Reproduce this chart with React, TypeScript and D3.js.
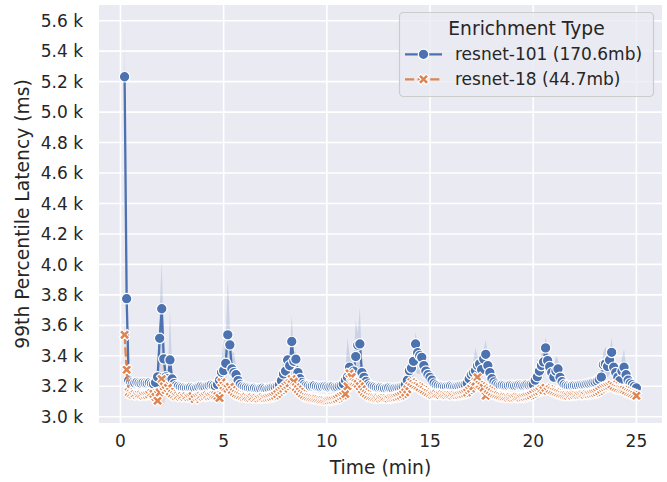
import React from 'react';
import * as d3 from 'd3';

// ---- data (ms), sampled every 0.1 min starting at 0.2 min ----
const timeStartMin = 0.2;
const timeStepMin = 0.1;

const resnet101 = [
  5232, 3775, 3240, 3228, 3225, 3222, 3226, 3223, 3221, 3224,
  3222, 3220, 3223, 3218, 3215, 3225, 3262, 3515, 3709, 3380,
  3262, 3250, 3373, 3248, 3218, 3205, 3200, 3195, 3192, 3190,
  3188, 3190, 3192, 3189, 3186, 3190, 3195, 3200, 3198, 3196,
  3200, 3205, 3208, 3204, 3200, 3212, 3240, 3292, 3303, 3351,
  3538, 3472, 3314, 3290, 3276, 3237, 3212, 3200, 3195, 3192,
  3190, 3188, 3186, 3188, 3185, 3183, 3186, 3188, 3185, 3182,
  3186, 3190, 3193, 3195, 3200, 3210, 3237, 3281, 3300, 3373,
  3336, 3494, 3364, 3378, 3290, 3250, 3225, 3212, 3205, 3203,
  3200, 3202, 3205, 3200, 3198, 3196, 3198, 3200, 3197, 3195,
  3198, 3200, 3196, 3198, 3202, 3206, 3215, 3240, 3260, 3325,
  3290, 3300, 3395, 3470, 3478, 3290, 3259, 3232, 3215, 3205,
  3200, 3196, 3193, 3190, 3192, 3189, 3186, 3188, 3190, 3187,
  3185, 3188, 3190, 3192, 3195, 3200, 3210, 3240, 3303, 3320,
  3364, 3478, 3420, 3402, 3390, 3336, 3300, 3276, 3259, 3240,
  3220, 3210, 3205, 3200, 3198, 3196, 3198, 3200, 3202, 3200,
  3197, 3199, 3202, 3205, 3208, 3212, 3220, 3250, 3276, 3290,
  3303, 3336, 3347, 3310, 3380, 3410, 3336, 3290, 3250, 3228,
  3215, 3208, 3205, 3208, 3206, 3203, 3205, 3208, 3206, 3204,
  3206, 3209, 3207, 3205, 3207, 3210, 3208, 3211, 3211, 3240,
  3263, 3300, 3336, 3360, 3452, 3369, 3329, 3290, 3260, 3300,
  3314, 3259, 3230, 3212, 3205, 3202, 3200, 3203, 3205, 3203,
  3206, 3208, 3210, 3212, 3215, 3218, 3222, 3225, 3228, 3235,
  3245, 3260, 3342, 3347, 3330, 3373, 3423, 3325, 3290, 3260,
  3237, 3300, 3325, 3276, 3240, 3220, 3210, 3200, 3189,
];

const resnet18 = [
  3538, 3309, 3160, 3150, 3145, 3148, 3142, 3146, 3144, 3140,
  3143, 3145, 3148, 3156, 3150, 3130, 3105, 3160, 3248, 3200,
  3176, 3190, 3165, 3150, 3140, 3135, 3138, 3132, 3136, 3130,
  3134, 3128, 3132, 3135, 3116, 3130, 3134, 3138, 3132, 3136,
  3140, 3135, 3138, 3142, 3140, 3135, 3123, 3226, 3205, 3190,
  3185, 3197, 3175, 3160, 3150, 3142, 3138, 3132, 3128, 3130,
  3126, 3124, 3128, 3122, 3125, 3120, 3124, 3127, 3122, 3125,
  3128, 3132, 3135, 3140, 3150, 3165, 3175, 3185, 3200, 3210,
  3220, 3248, 3230, 3193, 3180, 3165, 3150, 3140, 3132, 3128,
  3125, 3122, 3120, 3118, 3115, 3112, 3110, 3108, 3106, 3108,
  3110, 3112, 3115, 3118, 3125, 3135, 3140, 3150, 3200, 3285,
  3260, 3226, 3220, 3215, 3200, 3180, 3160, 3150, 3140, 3132,
  3128, 3125, 3122, 3124, 3120, 3123, 3126, 3122, 3120, 3124,
  3126, 3128, 3130, 3135, 3140, 3148, 3160, 3180, 3200, 3226,
  3215, 3205, 3200, 3193, 3180, 3175, 3165, 3158, 3150, 3145,
  3148, 3150, 3146, 3144, 3148, 3145, 3142, 3146, 3143, 3140,
  3144, 3142, 3145, 3148, 3150, 3155, 3160, 3175, 3185, 3200,
  3230, 3259, 3211, 3200, 3190, 3138, 3180, 3170, 3160, 3150,
  3145, 3140, 3136, 3132, 3130, 3128, 3126, 3128, 3125, 3127,
  3130, 3128, 3126, 3129, 3132, 3135, 3138, 3142, 3150, 3160,
  3165, 3170, 3180, 3175, 3190, 3171, 3180, 3171, 3165, 3160,
  3155, 3150, 3145, 3142, 3140, 3138, 3142, 3140, 3144, 3146,
  3143, 3146, 3148, 3145, 3150, 3148, 3152, 3155, 3158, 3162,
  3170, 3180, 3190, 3195, 3200, 3205, 3210, 3200, 3190, 3185,
  3180, 3178, 3176, 3170, 3160, 3155, 3150, 3145, 3138,
];

// confidence band: distance above / below the mean (ms)
const resnet101CiUp = [
  358, 150, 40, 15, 12, 12, 14, 12, 12, 13,
  12, 12, 14, 12, 15, 20, 60, 200, 311, 120,
  40, 40, 330, 60, 20, 14, 12, 12, 12, 12,
  12, 12, 12, 12, 12, 12, 12, 12, 12, 12,
  12, 14, 14, 12, 14, 20, 40, 90, 220, 150,
  370, 120, 110, 130, 60, 30, 15, 12, 12, 12,
  12, 12, 12, 12, 12, 12, 12, 12, 12, 12,
  12, 12, 12, 14, 15, 20, 40, 100, 80, 40,
  60, 170, 60, 50, 60, 30, 15, 12, 12, 12,
  12, 12, 12, 12, 12, 12, 12, 12, 12, 12,
  12, 12, 12, 12, 12, 14, 20, 60, 260, 80,
  100, 80, 235, 80, 240, 60, 40, 20, 14, 12,
  12, 12, 12, 12, 12, 12, 12, 12, 12, 12,
  12, 12, 12, 12, 14, 15, 20, 40, 50, 60,
  60, 77, 50, 40, 40, 60, 110, 60, 30, 20,
  14, 12, 12, 12, 12, 12, 12, 12, 12, 12,
  12, 12, 12, 12, 14, 15, 20, 40, 60, 80,
  150, 60, 60, 80, 60, 95, 60, 40, 25, 15,
  12, 12, 12, 12, 12, 12, 12, 12, 12, 12,
  12, 12, 12, 12, 12, 12, 12, 14, 20, 60,
  117, 60, 80, 60, 75, 60, 50, 40, 50, 100,
  60, 30, 15, 12, 12, 12, 12, 12, 12, 12,
  12, 12, 12, 12, 12, 14, 14, 15, 18, 20,
  40, 60, 80, 115, 60, 60, 95, 60, 50, 40,
  60, 80, 120, 50, 30, 20, 15, 12, 12,
];

const resnet101CiDown = [
  350, 200, 20, 12, 12, 12, 12, 12, 12, 12,
  12, 12, 12, 12, 12, 12, 30, 250, 300, 120,
  30, 30, 120, 30, 12, 12, 12, 12, 12, 12,
  12, 12, 12, 12, 12, 12, 12, 12, 12, 12,
  12, 12, 12, 12, 12, 12, 20, 60, 60, 100,
  250, 180, 80, 60, 40, 20, 12, 12, 12, 12,
  12, 12, 12, 12, 12, 12, 12, 12, 12, 12,
  12, 12, 12, 12, 12, 12, 20, 50, 60, 100,
  80, 200, 100, 100, 60, 30, 12, 12, 12, 12,
  12, 12, 12, 12, 12, 12, 12, 12, 12, 12,
  12, 12, 12, 12, 12, 12, 12, 20, 40, 80,
  60, 60, 120, 180, 180, 50, 30, 15, 12, 12,
  12, 12, 12, 12, 12, 12, 12, 12, 12, 12,
  12, 12, 12, 12, 12, 12, 12, 20, 60, 80,
  100, 180, 140, 120, 110, 80, 60, 40, 30, 20,
  12, 12, 12, 12, 12, 12, 12, 12, 12, 12,
  12, 12, 12, 12, 12, 12, 12, 25, 40, 60,
  60, 80, 80, 60, 100, 120, 80, 50, 25, 15,
  12, 12, 12, 12, 12, 12, 12, 12, 12, 12,
  12, 12, 12, 12, 12, 12, 12, 12, 12, 20,
  40, 60, 80, 100, 150, 100, 80, 50, 30, 60,
  60, 30, 15, 12, 12, 12, 12, 12, 12, 12,
  12, 12, 12, 12, 12, 12, 12, 12, 12, 12,
  20, 30, 80, 80, 70, 90, 130, 70, 50, 30,
  20, 60, 70, 40, 20, 12, 12, 12, 12,
];

const resnet18Ci = [
  90, 70, 20, 10, 10, 10, 10, 10, 10, 10,
  10, 10, 10, 12, 12, 20, 30, 60, 180, 120,
  40, 30, 20, 12, 10, 10, 10, 10, 10, 10,
  10, 10, 10, 10, 10, 10, 10, 10, 10, 10,
  10, 10, 10, 10, 10, 12, 30, 60, 40, 30,
  30, 30, 20, 15, 10, 10, 10, 10, 10, 10,
  10, 10, 10, 10, 10, 10, 10, 10, 10, 10,
  10, 10, 10, 10, 12, 15, 20, 25, 30, 30,
  30, 50, 40, 30, 20, 15, 12, 10, 10, 10,
  10, 10, 10, 10, 10, 10, 10, 10, 10, 10,
  10, 10, 10, 10, 10, 12, 15, 20, 40, 60,
  50, 40, 30, 30, 25, 20, 15, 12, 10, 10,
  10, 10, 10, 10, 10, 10, 10, 10, 10, 10,
  10, 10, 10, 10, 12, 15, 20, 25, 30, 40,
  30, 30, 25, 20, 20, 15, 15, 12, 10, 10,
  10, 10, 10, 10, 10, 10, 10, 10, 10, 10,
  10, 10, 10, 10, 10, 12, 15, 20, 25, 30,
  40, 50, 40, 30, 25, 20, 20, 15, 12, 10,
  10, 10, 10, 10, 10, 10, 10, 10, 10, 10,
  10, 10, 10, 10, 10, 10, 12, 15, 20, 40,
  60, 40, 30, 30, 30, 25, 25, 20, 20, 20,
  15, 12, 10, 10, 10, 10, 10, 10, 10, 10,
  10, 10, 10, 10, 10, 10, 12, 12, 15, 15,
  20, 25, 30, 30, 30, 30, 30, 25, 25, 20,
  20, 20, 20, 15, 15, 12, 12, 10, 10,
];

const xTicks = [0, 5, 10, 15, 20, 25];
const yTicks = [3000, 3200, 3400, 3600, 3800, 4000, 4200, 4400, 4600, 4800, 5000, 5200, 5400, 5600];
const seriesNames = ['resnet-101 (170.6mb)', 'resnet-18 (44.7mb)'];
const legendTitle = 'Enrichment Type';
const xLabel = 'Time (min)';
const yLabel = '99th Percentile Latency (ms)';

// ---- styling ----
const W = 667, H = 482;
const plot = { left: 99, right: 662, top: 5, bottom: 423 };
const BG = '#EAEAF2';
const BLUE = '#4C72B0';
const ORANGE = '#DD8452';
const TEXT = '#262626';
const FONT = 'DejaVu Sans, sans-serif';
const MS = 10.5; // marker size px
const MEW = 1.2;

const times = resnet101.map((_, i) => +(timeStartMin + timeStepMin * i).toFixed(2));

const x = d3.scaleLinear().domain([-1.04, 26.24]).range([plot.left, plot.right]);
const y = d3.scaleLinear().domain([2959, 5703]).range([plot.bottom, plot.top]);

type Pt = { t: number; v: number; lo: number; hi: number };
const blueData: Pt[] = times.map((t, i) => ({ t, v: resnet101[i], lo: resnet101[i] - resnet101CiDown[i], hi: resnet101[i] + resnet101CiUp[i] }));
const orangeData: Pt[] = times.map((t, i) => ({ t, v: resnet18[i], lo: resnet18[i] - resnet18Ci[i], hi: resnet18[i] + resnet18Ci[i] }));

const lineGen = d3.line<Pt>().x(d => x(d.t)).y(d => y(d.v));
const areaGen = d3.area<Pt>().x(d => x(d.t)).y0(d => y(d.lo)).y1(d => y(d.hi));

const xPts = [[-1, -2], [0, -1], [1, -2], [2, -1], [1, 0], [2, 1], [1, 2], [0, 1], [-1, 2], [-2, 1], [-1, 0], [-2, -1]];
function xMarker(cx: number, cy: number, s: number) {
  return 'M' + xPts.map(([a, b]) => `${(cx + (a / 4) * s).toFixed(2)},${(cy + (b / 4) * s).toFixed(2)}`).join('L') + 'Z';
}

const fmtK = (v: number) => (v / 1000).toFixed(1) + ' k';

export default function App() {
  const lw = 2.3;
  const dash = `${(4 * lw).toFixed(1)} ${(1.5 * lw).toFixed(1)}`;
  const lg = { x: 399.5, y: 12.5, w: 254, h: 84 };
  return (
    <svg width={W} height={H} style={{ position: 'absolute', left: 0, top: 0, background: '#fff' }} fontFamily={FONT}>
      <rect x={plot.left} y={plot.top} width={plot.right - plot.left} height={plot.bottom - plot.top} fill={BG} />
      {xTicks.map(t => (
        <line key={'gx' + t} x1={x(t)} x2={x(t)} y1={plot.top} y2={plot.bottom} stroke="#fff" strokeWidth={1.6} />
      ))}
      {yTicks.map(v => (
        <line key={'gy' + v} x1={plot.left} x2={plot.right} y1={y(v)} y2={y(v)} stroke="#fff" strokeWidth={1.6} />
      ))}
      <g clipPath="url(#clip)">
        <defs>
          <clipPath id="clip">
            <rect x={plot.left} y={plot.top} width={plot.right - plot.left} height={plot.bottom - plot.top} />
          </clipPath>
        </defs>
        <path d={areaGen(blueData) || ''} fill={BLUE} fillOpacity={0.2} />
        <path d={areaGen(orangeData) || ''} fill={ORANGE} fillOpacity={0.2} />
        <path d={lineGen(blueData) || ''} fill="none" stroke={BLUE} strokeWidth={lw} strokeLinejoin="round" strokeLinecap="round" />
        {blueData.map((d, i) => (
          <circle key={'b' + i} cx={x(d.t)} cy={y(d.v)} r={MS / 2} fill={BLUE} stroke="#fff" strokeWidth={MEW} />
        ))}
        <path d={lineGen(orangeData) || ''} fill="none" stroke={ORANGE} strokeWidth={lw} strokeDasharray={dash} strokeLinejoin="round" />
        {orangeData.map((d, i) => (
          <path key={'o' + i} d={xMarker(x(d.t), y(d.v), MS)} fill={ORANGE} stroke="#fff" strokeWidth={MEW} />
        ))}
      </g>
      {xTicks.map(t => (
        <text key={'tx' + t} x={x(t)} y={447} textAnchor="middle" fontSize={17} fill={TEXT}>{t}</text>
      ))}
      {yTicks.map(v => (
        <text key={'ty' + v} x={83} y={y(v)} dy="0.36em" textAnchor="end" fontSize={17} fill={TEXT}>{fmtK(v)}</text>
      ))}
      <text x={(plot.left + plot.right) / 2} y={474} textAnchor="middle" fontSize={18.7} fill={TEXT}>{xLabel}</text>
      <text transform={`translate(29,${(plot.top + plot.bottom) / 2}) rotate(-90)`} textAnchor="middle" fontSize={18.7} fill={TEXT}>{yLabel}</text>
      {/* legend */}
      <rect x={lg.x} y={lg.y} width={lg.w} height={lg.h} rx={4} fill={BG} fillOpacity={0.8} stroke="#CCCCCC" strokeWidth={1.2} />
      <text x={lg.x + lg.w / 2} y={34.5} textAnchor="middle" fontSize={18.7} fill={TEXT}>{legendTitle}</text>
      <line x1={405} x2={442} y1={54.3} y2={54.3} stroke={BLUE} strokeWidth={lw} />
      <circle cx={423.5} cy={54.3} r={MS / 2} fill={BLUE} stroke="#fff" strokeWidth={MEW} />
      <text x={455} y={60} fontSize={17} fill={TEXT}>{seriesNames[0]}</text>
      <line x1={405} x2={442} y1={79.3} y2={79.3} stroke={ORANGE} strokeWidth={lw} strokeDasharray={dash} />
      <path d={xMarker(423.5, 79.3, MS)} fill={ORANGE} stroke="#fff" strokeWidth={MEW} />
      <text x={455} y={85} fontSize={17} fill={TEXT}>{seriesNames[1]}</text>
    </svg>
  );
}
